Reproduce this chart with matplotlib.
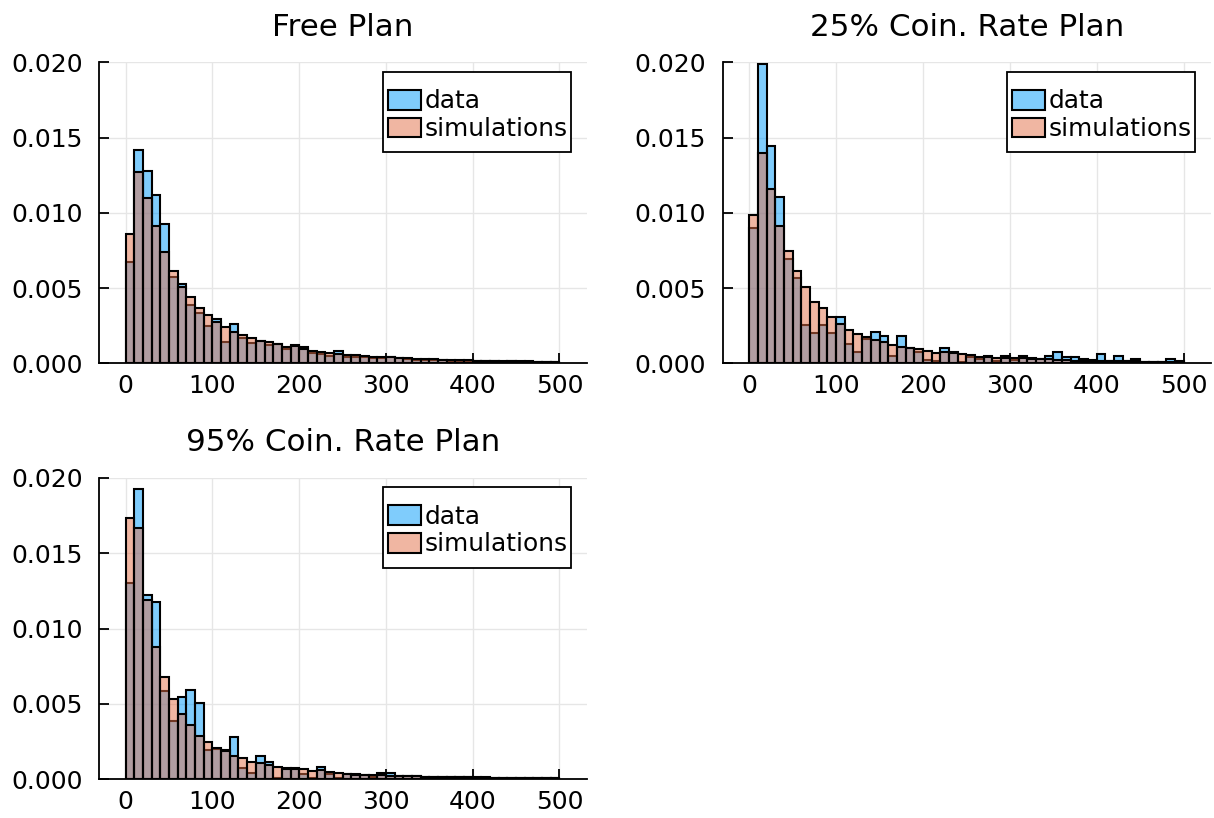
import numpy as np
import matplotlib
matplotlib.use("Agg")
import matplotlib.pyplot as plt
from matplotlib.patches import Rectangle

bin_edges = np.arange(0, 510, 10)

titles = ["Free Plan", "25% Coin. Rate Plan", "95% Coin. Rate Plan"]
series_labels = ["data", "simulations"]
x_ticks = [0, 100, 200, 300, 400, 500]
y_ticks = [0.000, 0.005, 0.010, 0.015, 0.020]

free_data = [0.0067, 0.01415, 0.0128, 0.01118, 0.00924, 0.00572, 0.0053, 0.00385, 0.00334, 0.00246,
             0.00293, 0.00143, 0.00264, 0.00165, 0.00132, 0.0015, 0.00121, 0.00128, 0.00095, 0.00121,
             0.00110, 0.00071, 0.00062, 0.00050, 0.00080, 0.00044, 0.00040, 0.00040, 0.00036, 0.00038,
             0.00042, 0.00032, 0.00028, 0.00024, 0.00024, 0.00022, 0.00020, 0.00018, 0.00016, 0.00017,
             0.00014, 0.00013, 0.00012, 0.00011, 0.00012, 0.00010, 0.00009, 0.00010, 0.00008, 0.00009]
free_sim = [0.0086, 0.0127, 0.0110, 0.0091, 0.0074, 0.0061, 0.0051, 0.0044, 0.0037, 0.0032,
            0.00275, 0.0024, 0.0021, 0.0019, 0.00165, 0.0015, 0.0014, 0.00128, 0.00108, 0.00118,
            0.00098, 0.00084, 0.00075, 0.00067, 0.00062, 0.00058, 0.00053, 0.00049, 0.00044, 0.00040,
            0.00039, 0.00037, 0.00034, 0.00031, 0.00029, 0.00027, 0.00025, 0.00023, 0.00021, 0.00020,
            0.00018, 0.00017, 0.00016, 0.00015, 0.00014, 0.00013, 0.00012, 0.00011, 0.00010, 0.00010]

c25_data = [0.0090, 0.0199, 0.01444, 0.01107, 0.00693, 0.00565, 0.00255, 0.00204, 0.00255, 0.00204,
            0.0031, 0.00128, 0.00078, 0.0016, 0.00206, 0.00182, 0.00049, 0.00180, 0.00104, 0.00078,
            0.00022, 0.00016, 0.00102, 0.00078, 0.00010, 0.00040, 0.00027, 0.00049, 0.00018, 0.00049,
            0.00022, 0.00049, 0.00033, 0.00030, 0.00049, 0.00078, 0.00044, 0.00044, 0.00027, 0.00022,
            0.00064, 0.00015, 0.00049, 0.00013, 0.00029, 0.00010, 0.00010, 0.00008, 0.00029, 0.00015]
c25_sim = [0.00986, 0.01395, 0.01156, 0.00915, 0.00746, 0.00611, 0.00505, 0.0041, 0.00365, 0.0031,
           0.00261, 0.00222, 0.00195, 0.00177, 0.00155, 0.0014, 0.00122, 0.00111, 0.00100, 0.00093,
           0.00084, 0.00071, 0.00078, 0.00070, 0.00060, 0.00053, 0.00044, 0.00040, 0.00033, 0.00033,
           0.00033, 0.00033, 0.00027, 0.00027, 0.00027, 0.00022, 0.00022, 0.00018, 0.00018, 0.00016,
           0.00016, 0.00014, 0.00014, 0.00012, 0.00012, 0.00011, 0.00010, 0.00010, 0.00009, 0.00009]

c95_data = [0.0130, 0.01927, 0.01219, 0.01179, 0.00588, 0.00389, 0.00549, 0.00593, 0.00509, 0.00195,
            0.00200, 0.00195, 0.00279, 0.00077, 0.00040, 0.00157, 0.00117, 0.00010, 0.00077, 0.00077,
            0.00035, 0.00010, 0.00080, 0.00035, 0.00010, 0.00033, 0.00033, 0.00029, 0.00018, 0.00040,
            0.00040, 0.00024, 0.00020, 0.00020, 0.00018, 0.00018, 0.00016, 0.00014, 0.00012, 0.00012,
            0.00011, 0.00010, 0.00010, 0.00009, 0.00009, 0.00008, 0.00008, 0.00007, 0.00007, 0.00006]
c95_sim = [0.01732, 0.01666, 0.01186, 0.00876, 0.00677, 0.00533, 0.00431, 0.00358, 0.0029, 0.00246,
           0.0021, 0.00190, 0.00155, 0.00139, 0.00117, 0.0011, 0.00095, 0.00084, 0.00071, 0.00071,
           0.00066, 0.00053, 0.00062, 0.00049, 0.00040, 0.00033, 0.00029, 0.00029, 0.00027, 0.00029,
           0.00022, 0.00024, 0.00020, 0.00019, 0.00018, 0.00017, 0.00016, 0.00015, 0.00014, 0.00013,
           0.00012, 0.00012, 0.00011, 0.00010, 0.00010, 0.00009, 0.00009, 0.00008, 0.00008, 0.00008]

panels = [(free_data, free_sim), (c25_data, c25_sim), (c95_data, c95_sim)]

plt.rcParams['font.family'] = ['DejaVu Sans']
fig = plt.figure(figsize=(12.14, 8.18), dpi=100)

rects = [
    [99.3 / 1214, 1 - 363.3 / 818, (586.7 - 99.3) / 1214, 301 / 818],
    [722.7 / 1214, 1 - 363.3 / 818, (1211 - 722.7) / 1214, 301 / 818],
    [99.3 / 1214, 1 - 779.3 / 818, (586.7 - 99.3) / 1214, 301.6 / 818],
]

blue = (0.0, 0.604, 0.980, 0.5)
orange = (0.890, 0.435, 0.278, 0.5)
edges_left = bin_edges[:-1]
widths = np.diff(bin_edges)

for rect, title, (dvals, svals) in zip(rects, titles, panels):
    ax = fig.add_axes(rect)
    ax.bar(edges_left, dvals, width=widths, align='edge', facecolor=blue,
           edgecolor='black', linewidth=1.5, label=series_labels[0], zorder=2)
    ax.bar(edges_left, svals, width=widths, align='edge', facecolor=orange,
           edgecolor='black', linewidth=1.5, label=series_labels[1], zorder=3)
    ax.set_xlim(-30.5, 531.5)
    ax.set_ylim(0, 0.020)
    ax.set_xticks(x_ticks)
    ax.set_xticklabels([str(t) for t in x_ticks])
    ax.set_yticks(y_ticks)
    ax.set_yticklabels([f"{t:.3f}" for t in y_ticks])
    for side in ['top', 'right']:
        ax.spines[side].set_visible(False)
    for side in ['left', 'bottom']:
        ax.spines[side].set_linewidth(1.3)
        ax.spines[side].set_zorder(5)
    ax.tick_params(axis='both', direction='in', length=7, width=1.3, labelsize=18,
                   color='black', labelcolor='black')
    ax.tick_params(axis='x', pad=8)
    ax.tick_params(axis='y', pad=12)
    ax.grid(True, color='#e6e6e6', linewidth=1.0, zorder=0)
    ax.set_axisbelow(True)
    ax.set_title(title, fontsize=22.3, pad=19)

    ax.add_patch(Rectangle((0.5815, 0.701), 0.968 - 0.5815, 0.9688 - 0.701,
                           transform=ax.transAxes, facecolor='white', edgecolor='black',
                           linewidth=1.3, zorder=6, clip_on=False))
    leg = ax.legend(loc='upper left', bbox_to_anchor=(0.5815, 0.9688 - 0.042), frameon=False,
                    fontsize=17.9, handlelength=1.35, handleheight=0.85, handletextpad=0.15,
                    labelspacing=0.15, borderpad=0.2, borderaxespad=0.0)
    for h in leg.legend_handles:
        h.set_linewidth(1.5)
    leg.set_zorder(7)

fig.savefig("out.png", dpi=100)
